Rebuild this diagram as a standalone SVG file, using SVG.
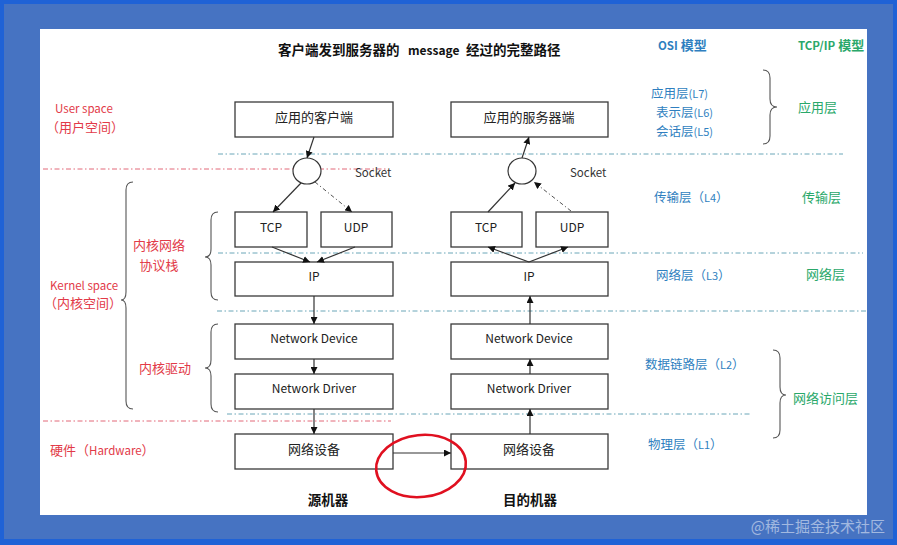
<svg xmlns="http://www.w3.org/2000/svg" width="897" height="545" viewBox="0 0 897 545">
<style>
text{font-family:"Noto Sans CJK SC","Noto Sans",sans-serif;}
.box{fill:#fff;stroke:#3a3a3a;stroke-width:1.3;}
.bt{font-size:12px;fill:#222;text-anchor:middle;}
.bc{font-size:13px;fill:#222;text-anchor:middle;}
.red{fill:#e23a48;font-size:11.5px;}
.redc{fill:#e23a48;font-size:13px;}
.osi{fill:#2f7fc0;font-size:12.5px;}
.tcp{fill:#2aa86a;font-size:13px;}
.ln{stroke:#333;stroke-width:1.2;fill:none;}
.dd{stroke:#555;stroke-width:1;fill:none;stroke-dasharray:4 2.5 1.2 2.5;}
.teal{stroke:#6aa6b8;stroke-width:1;stroke-dasharray:5 2.5 1.5 2.5;fill:none;}
.redl{stroke:#e26878;stroke-width:1;stroke-dasharray:5 2.5 1.5 2.5;fill:none;}
.brace{stroke:#555;stroke-width:1.1;fill:none;}
.bold{font-weight:bold;fill:#111;}
</style>
<defs>
<marker id="ah" viewBox="0 0 10 10" refX="10" refY="5" markerWidth="7" markerHeight="7" orient="auto" markerUnits="userSpaceOnUse">
<path d="M0,0 L10,5 L0,10 z" fill="#111"/>
</marker>
</defs>
<rect x="0" y="0" width="897" height="545" fill="#1f62d6"/>
<rect x="4" y="4" width="889" height="535" fill="#4673c2"/>
<rect x="40" y="29" width="827" height="486" fill="#fff"/>

<g id="title">
<text x="278" y="55" class="bold" font-size="13.5">客户端发到服务器的</text>
<text x="408" y="55" class="bold" font-size="12">message</text>
<text x="466" y="55" class="bold" font-size="13.5">经过的完整路径</text>
<text x="658" y="50" font-size="13" font-weight="bold" fill="#2f7fc0"><tspan font-size="11.5">OSI</tspan> 模型</text>
<text x="798" y="50" font-size="13" font-weight="bold" fill="#2aa86a"><tspan font-size="11.5">TCP/IP</tspan> 模型</text>
</g>

<g id="dividers">
<line class="teal" x1="218" y1="154" x2="843" y2="154"/>
<line class="redl" x1="43" y1="169" x2="388" y2="169"/>
<line class="teal" x1="218" y1="253" x2="863" y2="253"/>
<line class="teal" x1="217" y1="311" x2="867" y2="311"/>
<line class="teal" x1="227" y1="414" x2="750" y2="414"/>
<line class="redl" x1="43" y1="421" x2="391" y2="421"/>
</g>

<g id="left-labels">
<text x="55" y="113" class="red">User space</text>
<text x="46" y="132" class="redc">（用户空间）</text>
<text x="50" y="290" class="red">Kernel space</text>
<text x="44" y="308" class="redc">（内核空间）</text>
<text x="159" y="250" class="redc" text-anchor="middle">内核网络</text>
<text x="159" y="270" class="redc" text-anchor="middle">协议栈</text>
<text x="139" y="373" class="redc">内核驱动</text>
<text x="50" y="455" class="redc" font-size="12.5">硬件（<tspan font-size="11.5">Hardware</tspan>）</text>
</g>

<g id="braces">
<path class="brace" d="M133,182 Q126,182 126,190 L126,292 Q126,300 121,300 Q126,300 126,308 L126,401 Q126,409 133,409"/>
<path class="brace" d="M218,212 Q211,212 211,220 L211,249 Q211,257 205,257 Q211,257 211,265 L211,292 Q211,300 218,300"/>
<path class="brace" d="M218,324 Q211,324 211,332 L211,360 Q211,368 205,368 Q211,368 211,376 L211,404 Q211,412 218,412"/>
<path class="brace" d="M763,70 Q770,70 770,78 L770,99 Q770,107 777,107 Q770,107 770,115 L770,136 Q770,144 763,144"/>
<path class="brace" d="M773,350 Q780,350 780,358 L780,387 Q780,395 786,395 Q780,395 780,403 L780,430 Q780,438 773,438"/>
</g>

<g id="osi-labels">
<text x="651" y="98" class="osi">应用层<tspan font-size="11">(L7)</tspan></text>
<text x="656" y="117" class="osi">表示层<tspan font-size="11">(L6)</tspan></text>
<text x="656" y="136" class="osi">会话层<tspan font-size="11">(L5)</tspan></text>
<text x="654" y="202" class="osi">传输层（<tspan font-size="11">L4</tspan>）</text>
<text x="656" y="280" class="osi">网络层（<tspan font-size="11">L3</tspan>）</text>
<text x="645" y="369" class="osi">数据链路层（<tspan font-size="11">L2</tspan>）</text>
<text x="648" y="449" class="osi">物理层（<tspan font-size="11">L1</tspan>）</text>
</g>

<g id="tcpip-labels">
<text x="798" y="112" class="tcp">应用层</text>
<text x="802" y="202" class="tcp">传输层</text>
<text x="806" y="279" class="tcp">网络层</text>
<text x="793" y="403" class="tcp">网络访问层</text>
</g>

<g id="client-app"><rect class="box" x="235" y="102" width="158" height="35"/><text class="bc" x="314" y="122">应用的客户端</text></g>
<g id="client-socket"><ellipse cx="307" cy="171" rx="14" ry="13" fill="#fff" stroke="#333" stroke-width="1.2"/><text x="355" y="177" font-size="11.5" fill="#333">Socket</text></g>
<g id="client-tcp"><rect class="box" x="235" y="212" width="72" height="35"/><text class="bt" x="271" y="232">TCP</text></g>
<g id="client-udp"><rect class="box" x="321" y="212" width="71" height="35"/><text class="bt" x="356" y="232">UDP</text></g>
<g id="client-ip"><rect class="box" x="235" y="262" width="158" height="34"/><text class="bt" x="314" y="281">IP</text></g>
<g id="client-device"><rect class="box" x="235" y="324" width="158" height="35"/><text class="bt" x="314" y="343">Network Device</text></g>
<g id="client-driver"><rect class="box" x="235" y="374" width="158" height="35"/><text class="bt" x="314" y="393">Network Driver</text></g>
<g id="client-hw"><rect class="box" x="235" y="434" width="158" height="35"/><text class="bc" x="314" y="454">网络设备</text></g>

<g id="server-app"><rect class="box" x="451" y="102" width="157" height="35"/><text class="bc" x="529" y="122">应用的服务器端</text></g>
<g id="server-socket"><ellipse cx="522" cy="171" rx="14" ry="13" fill="#fff" stroke="#333" stroke-width="1.2"/><text x="570" y="177" font-size="11.5" fill="#333">Socket</text></g>
<g id="server-tcp"><rect class="box" x="451" y="212" width="71" height="35"/><text class="bt" x="486" y="232">TCP</text></g>
<g id="server-udp"><rect class="box" x="536" y="212" width="72" height="35"/><text class="bt" x="572" y="232">UDP</text></g>
<g id="server-ip"><rect class="box" x="451" y="262" width="157" height="34"/><text class="bt" x="529" y="281">IP</text></g>
<g id="server-device"><rect class="box" x="451" y="324" width="157" height="35"/><text class="bt" x="529" y="343">Network Device</text></g>
<g id="server-driver"><rect class="box" x="451" y="374" width="157" height="35"/><text class="bt" x="529" y="393">Network Driver</text></g>
<g id="server-hw"><rect class="box" x="451" y="434" width="157" height="35"/><text class="bc" x="529" y="454">网络设备</text></g>

<g id="connectors">
<line class="ln" x1="314" y1="137" x2="307" y2="158" marker-end="url(#ah)"/>
<line class="ln" x1="301" y1="183" x2="273" y2="212" marker-end="url(#ah)"/>
<line class="dd" x1="315" y1="182" x2="352" y2="212" marker-end="url(#ah)"/>
<line class="ln" x1="272" y1="247" x2="310" y2="262" marker-end="url(#ah)"/>
<line class="ln" x1="355" y1="247" x2="317" y2="262" marker-end="url(#ah)"/>
<line class="ln" x1="314" y1="296" x2="314" y2="324" marker-end="url(#ah)"/>
<line class="ln" x1="314" y1="359" x2="314" y2="374" marker-end="url(#ah)"/>
<line class="ln" x1="314" y1="409" x2="314" y2="434" marker-end="url(#ah)"/>
<line class="ln" x1="393" y1="453" x2="451" y2="453" marker-end="url(#ah)"/>
<line class="ln" x1="530" y1="434" x2="530" y2="409" marker-end="url(#ah)"/>
<line class="ln" x1="530" y1="374" x2="530" y2="359" marker-end="url(#ah)"/>
<line class="ln" x1="530" y1="324" x2="530" y2="296" marker-end="url(#ah)"/>
<line class="ln" x1="529" y1="262" x2="488" y2="247" marker-end="url(#ah)"/>
<line class="ln" x1="529" y1="262" x2="568" y2="247" marker-end="url(#ah)"/>
<line class="ln" x1="488" y1="212" x2="515" y2="183" marker-end="url(#ah)"/>
<line class="dd" x1="571" y1="211" x2="534" y2="182" marker-end="url(#ah)"/>
<line class="ln" x1="522" y1="158" x2="529" y2="137" marker-end="url(#ah)"/>
</g>

<ellipse cx="421" cy="466" rx="45" ry="31" fill="none" stroke="#e01020" stroke-width="2.6" transform="rotate(-6 421 466)"/>

<g id="captions">
<text x="328" y="505" class="bold" font-size="13.5" text-anchor="middle">源机器</text>
<text x="530" y="505" class="bold" font-size="13.5" text-anchor="middle">目的机器</text>
</g>
<text x="885" y="532" font-size="15" fill="#ffffff" fill-opacity="0.5" text-anchor="end">@稀土掘金技术社区</text>
</svg>
